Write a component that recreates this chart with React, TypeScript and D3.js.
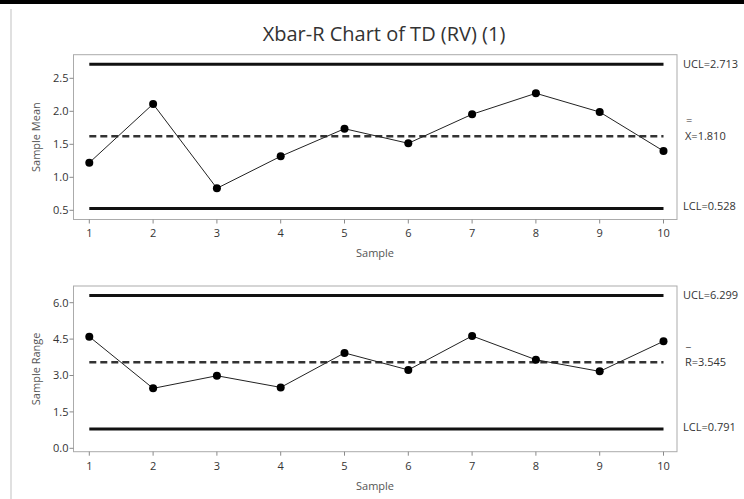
import React from "react";
import * as d3 from "d3";

const samples = [1, 2, 3, 4, 5, 6, 7, 8, 9, 10];
const meanValues = [1.221, 2.111, 0.833, 1.318, 1.736, 1.515, 1.955, 2.273, 1.989, 1.398];
const rangeValues = [4.6, 2.47, 2.99, 2.51, 3.93, 3.23, 4.63, 3.65, 3.17, 4.41];
const meanTicks = [0.5, 1.0, 1.5, 2.0, 2.5];
const rangeTicks = [0.0, 1.5, 3.0, 4.5, 6.0];
const meanLimits = { ucl: 2.713, center: 1.6205, lcl: 0.528 };
const rangeLimits = { ucl: 6.299, center: 3.545, lcl: 0.791 };
const meanLabels = { ucl: "UCL=2.713", bar: "=", center: "X=1.810", lcl: "LCL=0.528" };
const rangeLabels = { ucl: "UCL=6.299", bar: "_", center: "R=3.545", lcl: "LCL=0.791" };

const FONT = "'Open Sans', 'Noto Sans', sans-serif";
const frameLeft = 73.5;
const frameRight = 677;
const FS = 11;

const xScale = d3.scaleLinear().domain([1, 10]).range([89.3, 663.5]);

type PanelProps = {
  values: number[];
  ticks: number[];
  limits: { ucl: number; center: number; lcl: number };
  labels: { ucl: string; bar: string; center: string; lcl: string };
  yDomain: [number, number];
  yRange: [number, number];
  frameTop: number;
  frameBottom: number;
  yTitle: string;
  fmt: (v: number) => string;
  barDy: number;
};

function Panel(p: PanelProps) {
  const y = d3.scaleLinear().domain(p.yDomain).range(p.yRange);
  const line = d3
    .line<number>()
    .x((_, i) => xScale(samples[i]))
    .y((d) => y(d));
  const x0 = xScale(samples[0]);
  const x1 = xScale(samples[samples.length - 1]);
  const labelX = 683;
  const midY = (p.frameTop + p.frameBottom) / 2;
  return (
    <g>
      <rect
        x={frameLeft}
        y={p.frameTop}
        width={frameRight - frameLeft}
        height={p.frameBottom - p.frameTop}
        fill="white"
        stroke="#ababab"
        strokeWidth={1}
      />
      {p.ticks.map((t) => (
        <g key={"y" + t}>
          <line x1={frameLeft - 4} x2={frameLeft} y1={y(t)} y2={y(t)} stroke="#8a8a8a" strokeWidth={1} />
          <text x={frameLeft - 5} y={y(t)} dy="0.35em" textAnchor="end" fontSize={FS} fill="#333" fontFamily={FONT}>
            {p.fmt(t)}
          </text>
        </g>
      ))}
      {samples.map((s) => (
        <g key={"x" + s}>
          <line x1={xScale(s)} x2={xScale(s)} y1={p.frameBottom} y2={p.frameBottom + 4} stroke="#8a8a8a" strokeWidth={1} />
          <text x={xScale(s)} y={p.frameBottom + 14} dy="0.35em" textAnchor="middle" fontSize={FS} fill="#333" fontFamily={FONT}>
            {s}
          </text>
        </g>
      ))}
      <text x={375} y={p.frameBottom + 34} dy="0.35em" textAnchor="middle" fontSize={FS} fill="#555" fontFamily={FONT}>
        Sample
      </text>
      <text
        transform={`translate(36,${midY}) rotate(-90)`}
        dy="0.35em"
        textAnchor="middle"
        fontSize={FS}
        fill="#555"
        fontFamily={FONT}
      >
        {p.yTitle}
      </text>
      <line x1={x0} x2={x1} y1={y(p.limits.ucl)} y2={y(p.limits.ucl)} stroke="#111" strokeWidth={3} />
      <line x1={x0} x2={x1} y1={y(p.limits.lcl)} y2={y(p.limits.lcl)} stroke="#111" strokeWidth={3} />
      <line
        x1={x0}
        x2={x1}
        y1={y(p.limits.center)}
        y2={y(p.limits.center)}
        stroke="#333"
        strokeWidth={2.5}
        strokeDasharray="7,4"
      />
      <path d={line(p.values) || ""} fill="none" stroke="#222" strokeWidth={1} />
      {p.values.map((v, i) => (
        <circle key={"c" + i} cx={xScale(samples[i])} cy={y(v)} r={4} fill="#000" />
      ))}
      <text x={labelX} y={y(p.limits.ucl)} dy="0.35em" fontSize={FS} fill="#333" fontFamily={FONT}>
        {p.labels.ucl}
      </text>
      <text x={labelX + 3} y={y(p.limits.center) - 16 + p.barDy} dy="0.35em" fontSize={FS} fill="#333" fontFamily={FONT}>
        {p.labels.bar}
      </text>
      <text x={labelX + 2} y={y(p.limits.center)} dy="0.35em" fontSize={FS} fill="#333" fontFamily={FONT}>
        {p.labels.center}
      </text>
      <text x={labelX} y={y(p.limits.lcl) - 2} dy="0.35em" fontSize={FS} fill="#333" fontFamily={FONT}>
        {p.labels.lcl}
      </text>
    </g>
  );
}

export default function App() {
  return (
    <svg
      width={744}
      height={499}
      style={{ position: "absolute", left: 0, top: 0, background: "white" }}
    >
      <rect x={0} y={0} width={744} height={499} fill="white" />
      <rect x={0} y={0} width={744} height={4} fill="#000" />
      <line x1={11} x2={11} y1={9} y2={499} stroke="#d6d6d6" strokeWidth={1.5} />
      <text x={384} y={41} textAnchor="middle" fontSize={20} fill="#333" fontFamily={FONT}>
        Xbar-R Chart of TD (RV) (1)
      </text>
      <Panel
        values={meanValues}
        ticks={meanTicks}
        limits={meanLimits}
        labels={meanLabels}
        yDomain={[0.5, 2.5]}
        yRange={[210.3, 78.3]}
        frameTop={54.7}
        frameBottom={219.5}
        yTitle="Sample Mean"
        fmt={(v) => v.toFixed(1)}
        barDy={0}
      />
      <Panel
        values={rangeValues}
        ticks={rangeTicks}
        limits={rangeLimits}
        labels={rangeLabels}
        yDomain={[0, 6]}
        yRange={[448.3, 302.7]}
        frameTop={286}
        frameBottom={451.7}
        yTitle="Sample Range"
        fmt={(v) => v.toFixed(1)}
        barDy={-4}
      />
    </svg>
  );
}
